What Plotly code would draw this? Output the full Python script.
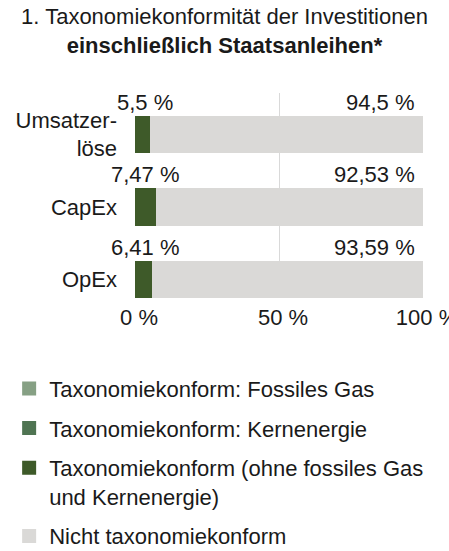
import plotly.graph_objects as go

# Categories and shares (in %)
categories = ["Umsatzer-<br>löse", "CapEx", "OpEx"]
fossil_gas = [0, 0, 0]
nuclear = [0, 0, 0]
aligned = [5.5, 7.47, 6.41]
not_aligned = [94.5, 92.53, 93.59]

x_ticks = [0, 50, 100]
x_tick_labels = ["0 %", "50 %", "100 %"]

series_names = [
    "Taxonomiekonform: Fossiles Gas",
    "Taxonomiekonform: Kernenergie",
    "Taxonomiekonform (ohne fossiles Gas<br>und Kernenergie)",
    "Nicht taxonomiekonform",
]
series_colors = ["#86a084", "#4f7452", "#3e5a29", "#dad9d7"]

FONT = "Liberation Sans"
TEXT_COLOR = "#1a1a1a"

positions = list(range(len(categories)))

fig = go.Figure()
for name, values, color in zip(series_names,
                               [fossil_gas, nuclear, aligned, not_aligned],
                               series_colors):
    fig.add_trace(go.Bar(
        y=positions, x=values, orientation="h", name=name,
        marker=dict(color=color, line=dict(width=2, color=color)),
        width=0.483, legendgroup=name, hoverinfo="skip",
    ))


def fmt(v):
    return f"{v:g}".replace(".", ",") + " %"


# Value labels above each bar
for i, (a, n) in enumerate(zip(aligned, not_aligned)):
    fig.add_annotation(x=0, y=i, text=fmt(a), showarrow=False,
                       xanchor="center", yanchor="middle",
                       xshift=10, yshift=32,
                       font=dict(size=22, color=TEXT_COLOR, family=FONT))
    fig.add_annotation(x=100, y=i, text=fmt(n), showarrow=False,
                       xanchor="right", yanchor="middle",
                       xshift=-6, yshift=32,
                       font=dict(size=22, color=TEXT_COLOR, family=FONT))

fig.update_layout(
    width=449, height=551,
    margin=dict(l=135, r=26, t=93, b=253, autoexpand=False),
    paper_bgcolor="white", plot_bgcolor="white",
    barmode="stack",
    font=dict(family=FONT, size=22, color=TEXT_COLOR),
    title=dict(
        text="1. Taxonomiekonformität der Investitionen<br>"
             "<b>einschließlich Staatsanleihen*</b>",
        x=0.5, xanchor="center", y=0.956, yanchor="top",
        font=dict(size=22, color=TEXT_COLOR, family=FONT),
    ),
    xaxis=dict(
        range=[0, 100], tickvals=x_ticks, ticktext=x_tick_labels,
        showgrid=True, gridcolor="#d9d9d9", gridwidth=1,
        zeroline=False, showline=False, ticks="",
        tickfont=dict(size=22, color=TEXT_COLOR, family=FONT),
        ticklabelstandoff=4, ticklabelshift=4,
        ticklabeloverflow="allow", fixedrange=True,
    ),
    yaxis=dict(
        range=[2.255, -0.572], tickvals=positions, ticktext=categories,
        showgrid=False, zeroline=False, showline=False, ticks="",
        tickfont=dict(size=22, color=TEXT_COLOR, family=FONT),
        ticklabelstandoff=17, fixedrange=True,
    ),
    showlegend=True,
    legend=dict(
        orientation="v", traceorder="grouped",
        x=-0.437, xanchor="left", y=-0.34, yanchor="top",
        font=dict(size=22, color=TEXT_COLOR, family=FONT),
        tracegroupgap=8, valign="top",
        bgcolor="rgba(0,0,0,0)",
    ),
)

fig.write_html("out.html")
